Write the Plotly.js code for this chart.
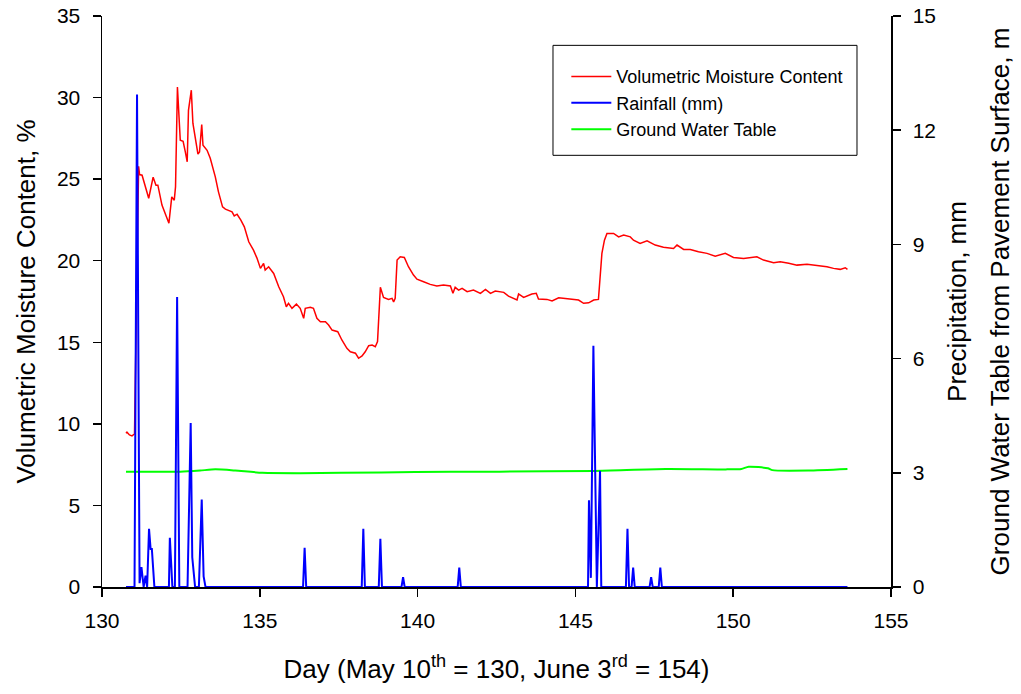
<!DOCTYPE html>
<html>
<head>
<meta charset="utf-8">
<script src="https://cdn.plot.ly/plotly-3.0.1.min.js"></script>
<style>html,body{margin:0;padding:0;background:#fff;}#chart{width:1021px;height:694px;}</style>
</head>
<body>
<div id="chart"></div>
<script>
// Volumetric moisture content (%), left axis
const vmcDay = [130.76,130.79,130.87,130.95,131.03,131.16,131.19,131.27,131.48,131.62,131.71,131.77,131.90,132.01,132.12,132.21,132.29,132.33,132.39,132.48,132.57,132.64,132.70,132.74,132.83,132.88,132.97,133.04,133.09,133.16,133.20,133.33,133.43,133.59,133.69,133.82,133.91,134.12,134.19,134.28,134.40,134.51,134.65,134.80,134.91,135.02,135.12,135.17,135.28,135.44,135.60,135.75,135.84,135.91,136.02,136.16,136.28,136.39,136.44,136.60,136.70,136.81,136.92,137.08,137.18,137.29,137.47,137.60,137.76,137.87,138.03,138.13,138.24,138.34,138.45,138.56,138.66,138.73,138.82,138.92,139.08,139.19,139.24,139.29,139.35,139.45,139.58,139.71,139.87,139.98,140.19,140.40,140.61,140.82,141.04,141.12,141.19,141.30,141.41,141.57,141.77,141.99,142.15,142.31,142.46,142.73,142.88,143.15,143.20,143.36,143.62,143.76,143.83,144.10,144.26,144.47,144.68,144.89,145.10,145.26,145.42,145.58,145.73,145.84,145.92,146.00,146.21,146.37,146.53,146.74,146.84,147.05,147.27,147.53,147.79,148.11,148.22,148.43,148.64,148.90,149.17,149.43,149.75,150.01,150.33,150.75,150.96,151.28,151.49,151.76,152.02,152.34,152.66,152.97,153.18,153.39,153.55,153.62];
const vmcVal = [9.43,9.49,9.32,9.26,9.38,25.79,25.28,25.24,23.83,25.12,24.63,24.63,23.41,22.80,22.30,23.91,23.71,24.53,30.65,27.39,27.32,26.67,26.06,29.22,30.45,28.43,27.20,26.53,26.67,28.35,27.08,26.77,26.28,25.14,24.22,23.30,23.16,22.99,22.75,22.85,22.49,22.08,21.16,20.65,20.16,19.53,19.84,19.43,19.63,19.22,18.40,17.79,17.18,17.39,17.08,17.34,17.08,16.47,17.08,17.14,17.08,16.47,16.26,16.26,16.06,15.75,15.65,15.14,14.63,14.42,14.33,14.02,14.16,14.42,14.79,14.83,14.73,15.04,18.37,17.75,17.63,17.69,17.48,17.69,20.04,20.24,20.20,19.63,19.12,18.87,18.71,18.55,18.45,18.51,18.45,18.00,18.37,18.20,18.31,18.10,18.20,18.00,18.24,18.00,18.14,18.06,17.83,17.59,17.96,17.75,17.96,18.00,17.65,17.63,17.53,17.73,17.69,17.63,17.59,17.39,17.42,17.59,17.63,20.45,21.26,21.67,21.67,21.46,21.57,21.46,21.26,21.06,21.22,20.96,20.82,20.75,20.96,20.69,20.69,20.55,20.45,20.28,20.45,20.20,20.14,20.24,20.04,19.87,19.93,19.84,19.73,19.79,19.73,19.63,19.53,19.47,19.57,19.47];

// Rainfall (mm), right axis
const rainDay = [130.76,131.03,131.11,131.19,131.25,131.32,131.38,131.43,131.49,131.54,131.58,131.66,132.12,132.15,132.23,132.31,132.38,132.45,132.71,132.76,132.81,132.86,132.95,133.07,133.16,133.22,133.28,136.37,136.42,136.47,138.23,138.28,138.33,138.77,138.82,138.87,139.49,139.54,139.59,141.27,141.32,141.37,145.40,145.43,145.49,145.57,145.68,145.78,145.82,146.60,146.65,146.70,146.78,146.83,146.88,147.35,147.40,147.45,147.64,147.69,147.74,153.62];
const rainVal = [0,0,12.94,0.10,0.52,0,0.30,0,1.53,1.00,1.00,0,0,1.29,0,0,7.62,0,0,2.56,4.31,0.78,0,0,2.30,0.28,0,0,1.03,0,0,1.53,0,0,1.27,0,0,0.26,0,0,0.51,0,0,2.28,0.24,6.34,0,3.05,0,0,1.53,0,0,0.51,0,0,0.26,0,0,0.51,0,0];

// Ground water table (m), right axis
const gwtDay = [130.76,131.53,132.48,133.11,133.59,134.22,135.08,136.28,138.85,141.04,142.60,145.60,147.86,149.81,150.26,150.49,151.10,151.24,152.38,153.62];
const gwtVal = [3.03,3.03,3.03,3.06,3.09,3.06,3.00,2.99,3.01,3.03,3.03,3.05,3.10,3.09,3.10,3.16,3.12,3.07,3.06,3.10];

const seriesNames = ["Volumetric Moisture Content", "Rainfall (mm)", "Ground Water Table"];
const xTitle = "Day (May 10<sup>th</sup> = 130, June 3<sup>rd</sup> = 154)";
const yTitle = "Volumetric Moisture Content, %";
const y2Title = "Precipitation, mm";
const y3Title = "Ground Water Table from Pavement Surface, m";

const FONT = "Liberation Sans, Arial, sans-serif";

const traces = [
  {x: vmcDay, y: vmcVal, name: seriesNames[0], type: "scatter", mode: "lines",
   line: {color: "#ff0000", width: 1.5}, yaxis: "y", legendrank: 1},
  {x: gwtDay, y: gwtVal, name: seriesNames[2], type: "scatter", mode: "lines",
   line: {color: "#00ff00", width: 2, shape: "spline", smoothing: 0.6}, yaxis: "y2", legendrank: 3},
  {x: rainDay, y: rainVal, name: seriesNames[1], type: "scatter", mode: "lines",
   line: {color: "#0000ff", width: 2}, yaxis: "y2", legendrank: 2}
];

const axisCommon = {
  showgrid: false, zeroline: false, showline: true, linecolor: "#000", linewidth: 1.5,
  ticks: "outside", ticklen: 8, tickwidth: 1.5, tickcolor: "#000",
  tickfont: {family: FONT, size: 21, color: "#000"}
};

const layout = {
  width: 1021, height: 694,
  margin: {l: 102, r: 130, t: 16, b: 107, autoexpand: false},
  paper_bgcolor: "#fff", plot_bgcolor: "#fff",
  font: {family: FONT, color: "#000"},
  xaxis: Object.assign({}, axisCommon, {
    range: [130, 155], dtick: 5, tick0: 130, ticklabelstandoff: 6,
    title: {text: xTitle, font: {family: FONT, size: 26}, standoff: 29}
  }),
  yaxis: Object.assign({}, axisCommon, {
    range: [0, 35], dtick: 5, tick0: 0, ticklabelstandoff: 8,
    title: {text: yTitle, font: {family: FONT, size: 26}, standoff: 14}
  }),
  yaxis2: Object.assign({}, axisCommon, {
    range: [0, 15], dtick: 3, tick0: 0, overlaying: "y", side: "right", ticklabelstandoff: 8,
    title: {text: y2Title, font: {family: FONT, size: 26}, standoff: 12}
  }),
  showlegend: true,
  legend: {
    x: 0.5885, y: 0.926, xanchor: "left", yanchor: "top",
    bgcolor: "rgba(0,0,0,0)", borderwidth: 0,
    font: {family: FONT, size: 18, color: "#000"},
    itemwidth: 40, traceorder: "normal"
  },
  shapes: [
    {type: "rect", xref: "paper", yref: "paper", x0: 0.5716, x1: 0.9569, y0: 0.756, y1: 0.9486,
     line: {color: "#000", width: 1}, fillcolor: "rgba(0,0,0,0)", layer: "above"}
  ],
  annotations: [
    {text: y3Title, xref: "paper", yref: "paper", x: 1.138, y: 0.5, textangle: -90,
     showarrow: false, xanchor: "center", yanchor: "middle",
     font: {family: FONT, size: 26, color: "#000"}}
  ]
};

Plotly.newPlot("chart", traces, layout, {displayModeBar: false, staticPlot: true});
</script>
</body>
</html>
